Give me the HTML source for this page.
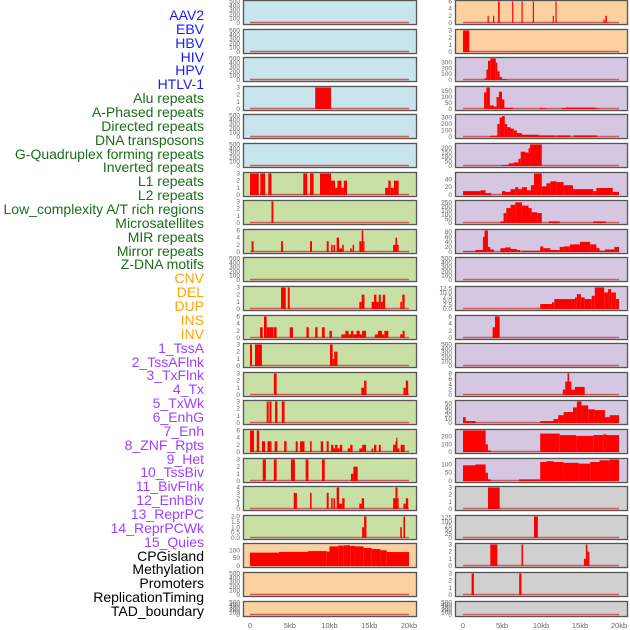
<!DOCTYPE html>
<html><head><meta charset="utf-8">
<style>
html,body{margin:0;padding:0;background:#fff;}
body{width:630px;height:630px;overflow:hidden;position:relative;font-family:"Liberation Sans",sans-serif;}
#labels{position:absolute;left:0;top:0;width:204px;height:630px;}
.lab{position:absolute;right:0;font-size:14px;line-height:14px;white-space:nowrap;}
svg{position:absolute;left:0;top:0;}
</style></head>
<body>
<div id="labels"></div>
<svg id="chart" width="630" height="630"></svg>
<script>
const trackLabels = ["AAV2","EBV","HBV","HIV","HPV","HTLV-1","Alu repeats","A-Phased repeats","Directed repeats","DNA transposons","G-Quadruplex forming repeats","Inverted repeats","L1 repeats","L2 repeats","Low_complexity A/T rich regions","Microsatellites","MIR repeats","Mirror repeats","Z-DNA motifs","CNV","DEL","DUP","INS","INV","1_TssA","2_TssAFlnk","3_TxFlnk","4_Tx","5_TxWk","6_EnhG","7_Enh","8_ZNF_Rpts","9_Het","10_TssBiv","11_BivFlnk","12_EnhBiv","13_ReprPC","14_ReprPCWk","15_Quies","CPGisland","Methylation","Promoters","ReplicationTiming","TAD_boundary"];
const labelGroups = [6,13,5,15,5];
const groupColors = ["#1a1aff","#1a6e1a","#ffa500","#a040ff","#000000"];

const T500 = ["0","100","200","300","400","500"];
const T3 = ["0","1","2","3"];
const T6 = ["0","2","4","6"];

// Left column panels: [start kb, end kb, value]
const L1 = [], L2 = [], L3 = [];
const L4 = [[8.2,10.2,3]];
const L5 = [], L6 = [];
const L7 = [[0,1.1,3],[1.3,1.9,3],[2.3,2.7,3],[6.7,7.2,3],[7.55,8.0,3],[8.8,10.2,3],[10.2,10.7,2],[10.7,11.0,1],[11.0,11.5,2],[11.5,11.8,1],[11.8,12.2,2],[17.0,17.4,1],[17.4,17.7,2],[17.7,18.1,1],[18.1,18.7,2]];
const L8 = [[2.7,2.95,3]];
const L9 = [[0.2,0.45,3],[3.9,4.15,3],[7.55,7.8,3],[9.65,9.9,3],[10.2,10.4,2],[10.5,10.7,2],[10.9,11.2,4],[11.2,11.6,1],[11.6,11.8,2],[12.6,12.8,1],[12.9,13.1,2],[13.75,14.05,3],[14.05,14.25,6],[14.25,14.4,3],[18.0,18.3,2],[18.3,18.5,4],[18.5,18.7,2]];
const L10 = [];
const L11 = [[3.9,4.5,3],[4.75,5.0,3],[13.75,14.05,1],[14.05,14.4,2],[15.3,15.6,1],[15.6,15.9,2],[15.9,16.2,1],[16.2,16.45,2],[16.45,16.7,1],[16.7,17.0,2],[18.9,19.1,1],[19.15,19.45,2]];
const L12 = [[1.26,1.6,3],[1.76,2.1,6],[2.1,2.95,3],[3.0,3.35,3],[5.0,5.4,3],[7.1,7.4,3],[8.2,8.5,3],[9.05,9.4,3],[10.0,10.3,2],[11.5,12.0,1],[12.0,12.4,2],[12.4,12.7,1],[12.7,13.0,2],[13.0,13.4,1],[13.4,13.8,2],[13.8,14.1,1],[14.1,14.6,2],[15.7,16.1,1],[16.1,16.6,2],[16.6,16.9,1],[16.9,17.4,2],[18.9,19.2,1],[19.2,19.45,2]];
const L13 = [[0,0.25,3],[0.63,1.5,3],[10.06,10.4,3],[10.4,10.6,1],[10.6,11.0,2]];
const L14 = [[3.0,3.35,3],[14.0,14.35,1],[14.35,14.65,2],[19.3,19.6,1],[19.6,19.9,2]];
const L15 = [[2.1,2.35,3],[2.45,2.7,3],[3.15,3.45,3],[4.0,4.35,3]];
const L16 = [[0,0.5,6],[0.85,1.15,6],[1.5,1.9,3],[2.2,2.7,3],[3.1,3.45,3],[4.3,4.6,3],[5.75,6.0,3],[6.3,6.85,3],[7.55,7.75,3],[8.9,9.2,3],[9.65,9.9,3],[10.2,10.5,2],[10.5,10.7,1],[10.7,11.0,2],[11.0,11.3,1],[11.3,11.6,2],[12.3,12.6,1],[12.6,12.9,2],[13.75,14.1,1],[14.1,14.6,2],[15.3,15.5,1],[15.6,15.9,2],[16.2,16.45,2],[18.0,18.3,2],[18.3,18.4,3],[18.4,18.55,4],[18.55,18.8,1],[18.95,19.45,2]];
const L17 = [[1.6,2.0,3],[3.0,3.35,3],[5.15,5.65,3],[7.0,7.35,3],[9.05,9.4,3],[12.7,13.0,1],[13.0,13.55,2]];
const L18 = [[5.5,5.9,3],[7.55,7.75,3],[9.65,9.9,3],[10.2,10.4,2],[10.5,10.7,2],[10.9,11.2,4],[11.2,11.6,1],[11.6,11.9,2],[13.75,14.05,1],[14.05,14.35,2],[18.0,18.3,2],[18.3,18.55,4],[18.55,18.7,2],[19.3,19.6,1],[19.6,19.9,2]];
const L19 = [[14.1,14.35,1],[14.35,14.65,2],[18.9,19.1,1],[19.3,19.5,2]];
const L20 = [[0,3.65,85],[3.65,5.85,90],[5.85,7.3,90],[7.3,9.65,95],[9.65,10.0,92],[10.0,11.1,125],[11.1,11.8,130],[11.8,12.6,132],[12.6,13.2,128],[13.2,14.3,125],[14.3,15.3,115],[15.3,16.4,108],[16.4,17.2,100],[17.2,20.0,89]];
const L21 = [], L22 = [];

// Right column panels
const R1 = [[3.15,3.3,2],[3.85,4.0,2],[4.5,4.7,6],[6.3,6.45,6],[7.5,7.65,6],[8.95,9.1,6],[11.5,11.65,2],[11.85,12.0,6],[18.0,18.15,1],[18.25,18.45,2]];
const R2 = [[0,0.8,3]];
const R3 = [[2.76,3.0,30],[3.0,3.2,180],[3.2,3.5,330],[3.5,4.2,370],[4.2,4.4,300],[4.4,4.7,150],[4.7,5.0,50],[5.0,5.7,15]];
const R4 = [[2.7,3.0,140],[3.0,3.45,180],[3.45,3.95,30],[3.95,4.3,20],[4.3,4.6,100],[4.6,5.0,145],[5.0,5.3,80],[5.3,6.4,10],[9.9,10.2,10],[10.2,10.6,5],[12.7,13.2,8],[13.2,17.0,12],[17.0,17.4,6]];
const R5 = [[3.45,4.4,20],[4.4,4.7,200],[4.7,5.0,300],[5.0,5.35,320],[5.35,5.65,200],[5.65,6.1,150],[6.1,6.5,130],[6.5,6.9,100],[6.9,7.55,60],[7.55,9.7,35],[9.7,11.8,25],[11.9,13.8,25],[14.2,17.2,25]];
const R6 = [[5.0,5.85,10],[5.85,6.5,30],[6.5,7.1,40],[7.1,7.4,80],[7.4,8.0,160],[8.0,8.4,150],[8.4,8.6,200],[8.6,10.1,240]];
const R7 = [[0,2.25,10],[2.25,2.9,12],[2.9,3.6,5],[5.0,5.4,10],[5.4,6.1,8],[6.1,6.7,15],[6.7,7.1,20],[7.1,7.55,15],[7.55,8.2,20],[8.2,8.7,12],[8.7,9.1,25],[9.1,10.1,55],[10.1,10.7,22],[10.7,11.2,30],[11.2,12.0,35],[12.0,12.9,33],[12.9,14.1,25],[14.1,16.7,15],[16.7,17.1,10],[17.1,19.2,18],[19.2,20.0,8]];
const R8 = [[4.8,5.2,20],[5.2,5.55,120],[5.55,6.1,180],[6.1,6.7,220],[6.7,7.55,250],[7.55,8.4,210],[8.4,8.8,180],[8.8,9.5,130],[9.5,10.1,120],[11.0,12.4,20],[16.7,18.3,20]];
const R9 = [[0,1.6,2],[1.6,2.55,8],[2.55,2.76,60],[2.76,3.2,85],[3.2,3.5,20],[3.5,3.95,10],[4.8,5.4,15],[5.4,6.1,18],[6.1,6.9,12],[6.9,7.35,8],[7.55,9.9,5],[9.9,10.3,22],[10.3,11.2,15],[11.2,12.4,8],[12.4,12.9,20],[12.9,13.7,22],[13.7,15.0,30],[15.0,16.3,40],[16.3,17.1,30],[17.1,17.5,15],[17.5,18.2,5],[18.2,19.4,10],[19.4,20.0,20]];
const R10 = [];
const R11 = [[9.9,11.4,3],[11.4,11.7,4],[11.7,14.35,6],[14.35,14.6,7],[14.6,15.1,9],[15.1,15.6,7],[15.6,16.5,6],[16.5,16.9,8],[16.9,18.1,13],[18.1,18.6,10],[18.6,19.0,12],[19.0,19.6,10],[19.6,20.0,6]];
const R12 = [[3.8,4.1,3],[4.1,4.7,6]];
const R13 = [];
const R14 = [[12.8,13.1,2],[13.1,13.4,5],[13.4,13.6,8],[13.6,13.9,5],[13.9,14.35,2],[14.35,15.6,3]];
const R15 = [[0,0.35,15],[0.35,1.6,5],[9.9,11.6,5],[11.6,12.2,10],[12.2,12.9,20],[12.9,14.1,28],[14.1,14.6,40],[14.6,15.2,55],[15.2,16.05,45],[16.05,16.9,35],[16.9,18.2,33],[18.2,18.8,15],[18.8,20.0,20]];
const R16 = [[0,2.9,280],[2.9,3.2,100],[3.2,3.6,20],[9.9,12.4,240],[12.4,14.5,220],[14.5,16.7,210],[16.7,18.0,220],[18.0,18.4,230],[18.4,20.0,220]];
const R17 = [[0,1.6,95],[1.6,2.9,100],[2.9,3.2,50],[3.2,3.6,10],[7.2,9.9,10],[9.9,10.7,115],[10.7,11.6,120],[11.6,12.9,115],[12.9,14.8,110],[14.8,16.3,105],[16.3,17.5,115],[17.5,18.8,125],[18.8,20.0,130]];
const R18 = [[3.2,4.7,3]];
const R19 = [[9.1,9.6,130]];
const R20 = [[3.5,4.4,3],[7.5,7.7,3],[15.5,15.75,1],[15.75,15.95,3],[15.95,16.2,2]];
const R21 = [[1.1,1.4,3],[7.2,7.5,3]];
const R22 = [];

const leftSegs = [L1,L2,L3,L4,L5,L6,L7,L8,L9,L10,L11,L12,L13,L14,L15,L16,L17,L18,L19,L20,L21,L22];
const rightSegs = [R1,R2,R3,R4,R5,R6,R7,R8,R9,R10,R11,R12,R13,R14,R15,R16,R17,R18,R19,R20,R21,R22];
const leftMax = [500,500,500,3,500,500,3,3,6,500,3,6,3,3,3,6,3,4,2,137,500,500];
const rightMax = [6,3,370,180,330,240,55,260,85,500,13,6,500,8,55,280,130,3,130,3,3,500];
const leftTicks = [T500,T500,T500,T3,T500,T500,T3,T3,T6,T500,T3,T6,T3,T3,T3,T6,T3,["0","1","2","3","4"],["0.0","0.5","1.0","1.5","2.0"],["0","50","100"],T500,T500];
const rightTicks = [T6,T3,["0","100","200","300"],["0","50","100","150"],["0","100","200","300"],["0","50","100","150","200"],["0","20","40"],["0","50","100","150","200","250"],["0","20","40","60","80"],T500,["0.0","2.5","5.0","7.5","10.0","12.5"],T6,T500,["0","2","4","6","8"],["0","10","20","30","40","50"],["0","100","200"],["0","50","100"],T3,["0","25","50","75","100","125"],T3,T3,T500];
const xTickKb = [0,5,10,15,20];
const xTickLabels = ["0","5kb","10kb","15kb","20kb"];

const leftColors = [];
for (let i=0;i<22;i++) leftColors.push(i<6?"#c8e4ec":(i<19?"#c8e0a4":"#fdd09f"));
const rightColors = [];
for (let i=0;i<22;i++) rightColors.push(i<2?"#fdd09f":(i<17?"#d5c6e2":"#d0d0d0"));

// labels
const labDiv = document.getElementById('labels');
let gi=0, cnt=0;
trackLabels.forEach((t,i)=>{
  while (cnt>=labelGroups[gi]) { gi++; cnt=0; }
  cnt++;
  const d=document.createElement('div');
  d.className='lab';
  d.style.top=(8+i*13.86)+'px';
  d.style.color=groupColors[gi];
  d.textContent=t;
  
  
  labDiv.appendChild(d);
});

const svg=document.getElementById('chart');
const NS="http://www.w3.org/2000/svg";
function mk(tag,attrs,parent){const e=document.createElementNS(NS,tag);for(const k in attrs)e.setAttribute(k,attrs[k]);(parent||svg).appendChild(e);return e;}

function drawPanel(col,i,segs,ymax,ticks,bg){
  const px = col===0?243:455, pw = col===0?173:172;
  const x0 = col===0?250:463, sc = col===0?7.95:7.8;
  const top = Math.round(i*28.6), h = i===21?15:24;
  const g=mk('g',{});
  
  
  mk('rect',{x:px+0.5,y:top+0.5,width:pw,height:h,fill:bg,stroke:'#9a9a9a','stroke-width':1.6},g);
  const yb = top+h-1, yt = top+1.5;
  const yS = v => yb - (v/ymax)*(yb-yt);
  const xS = kb => x0 + kb*sc;
  mk('line',{x1:xS(0),x2:xS(20),y1:yb-0.5,y2:yb-0.5,stroke:'#d05a5a','stroke-width':1.6},g);
  segs.forEach(s=>{
    const b=mk('rect',{x:xS(s[0]),y:yS(s[2]),width:Math.max(1,xS(s[1])-xS(s[0])),height:yb-yS(s[2]),fill:'#ff0000'},g);
    
    
  });
  mk('rect',{x:px+0.5,y:top+0.5,width:pw,height:h,fill:'none',stroke:'#555','stroke-width':1},g);
  const tmax = parseFloat(ticks[ticks.length-1]);
  ticks.forEach(t=>{
    const v=parseFloat(t);
    const tx=mk('text',{x:px-3,y:yS(v)+2,'font-size':6.5,fill:'#666','text-anchor':'end','font-family':'Liberation Sans, sans-serif'},g);
    tx.textContent=t;
    
    
  });
}
for(let i=0;i<22;i++){
  drawPanel(0,i,leftSegs[i],leftMax[i],leftTicks[i],leftColors[i]);
  drawPanel(1,i,rightSegs[i],rightMax[i],rightTicks[i],rightColors[i]);
}
[[250,7.95],[463,7.8]].forEach(([x0,sc])=>{
  xTickKb.forEach((k,j)=>{
    const t=mk('text',{x:x0+k*sc,y:628,'font-size':7.5,fill:'#666','text-anchor':'middle','font-family':'Liberation Sans, sans-serif'});
    t.textContent=xTickLabels[j];
    
    
  });
});
</script>
</body></html>
